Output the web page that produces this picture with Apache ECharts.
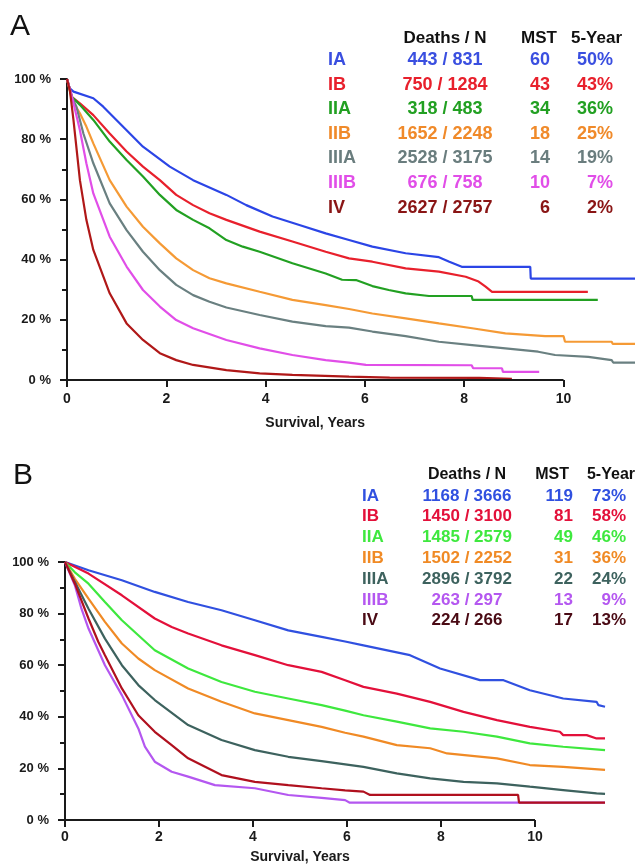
<!DOCTYPE html>
<html>
<head>
<meta charset="utf-8">
<script src="https://cdn.jsdelivr.net/npm/echarts@6/dist/echarts.min.js"></script>
<style>
  html, body { margin: 0; padding: 0; background: #fff; }
  #main { width: 638px; height: 867px; }
</style>
</head>
<body>
<div id="main"></div>
<script>
// stages and table values
const stages = ['IA', 'IB', 'IIA', 'IIB', 'IIIA', 'IIIB', 'IV'];

const deathsA = [443, 750, 318, 1652, 2528, 676, 2627];
const totalA = [831, 1284, 483, 2248, 3175, 758, 2757];
const mstA = [60, 43, 34, 18, 14, 10, 6];
const fiveYearA = [50, 43, 36, 25, 19, 7, 2];

const deathsB = [1168, 1450, 1485, 1502, 2896, 263, 224];
const totalB = [3666, 3100, 2579, 2252, 3792, 297, 266];
const mstB = [119, 81, 49, 31, 22, 13, 17];
const fiveYearB = [73, 58, 46, 36, 24, 9, 13];

const xTicks = [0, 2, 4, 6, 8, 10];
const yTicks = [0, 20, 40, 60, 80, 100];
const xMax = 11.5; // curves run past the last labelled year

// survival curves, panel A  [years, percent]
const survA_IA = [[0,100],[0.05,97],[0.13,95.8],[0.53,93.6],[0.73,90.8],[1.2,83],[1.53,77.5],[2.07,70.9],[2.54,66.4],[3.21,61.5],[3.61,58.1],[4.14,54.3],[4.68,51.5],[5.21,48.7],[5.68,46.5],[6.15,44.3],[6.82,42.1],[7.49,40.8],[7.7,39.3],[7.95,37.6],[9.33,37.6],[9.34,33.7],[11.44,33.7]];
const survA_IB = [[0,100],[0.1,94],[0.26,91.9],[0.53,88],[0.86,81.9],[1.2,75.9],[1.53,70.9],[1.87,66.4],[2.2,61.5],[2.54,58.1],[2.87,55.4],[3.21,53.2],[3.88,49.3],[4.54,46],[5.21,42.6],[5.68,40.4],[6.15,39.3],[6.82,37.1],[7.49,36],[8.03,34.3],[8.29,32.7],[8.43,31],[8.56,29.3],[10.49,29.3]];
const survA_IIA = [[0,100],[0.1,94],[0.26,91.4],[0.53,86.4],[0.86,79.2],[1.2,73.1],[1.53,67.6],[1.87,61.5],[2.2,56.5],[2.54,53.2],[2.87,50.4],[3.21,46.5],[3.54,44.3],[3.88,42.6],[4.54,38.8],[5.21,35.4],[5.54,33.3],[5.82,33.2],[6.15,31.2],[6.48,29.9],[6.82,28.8],[7.29,27.9],[8.15,27.9],[8.17,26.6],[10.69,26.6]];
const survA_IIB = [[0,100],[0.1,93],[0.26,88.6],[0.39,84.2],[0.53,78.6],[0.86,66.4],[1.2,57.6],[1.53,50.9],[1.87,45.4],[2.2,40.4],[2.54,36.5],[2.87,33.8],[3.21,32.1],[3.88,29.3],[4.54,26.6],[5.21,24.9],[5.68,23.6],[6.15,22.1],[6.82,20.5],[7.49,18.8],[8.16,17.2],[8.83,15.5],[9.63,14.6],[10.0,14.6],[10.03,12.7],[10.97,12.7],[10.99,12.0],[11.44,12.0]];
const survA_IIIA = [[0,100],[0.1,94],[0.19,90.8],[0.33,81.9],[0.53,72],[0.86,58.7],[1.2,49.8],[1.53,42.6],[1.87,36.5],[2.2,31.6],[2.54,28.2],[2.87,26],[3.21,24.1],[3.88,21.6],[4.54,19.4],[5.21,17.9],[5.68,17.4],[6.15,16.1],[6.82,14.6],[7.49,12.7],[8.16,11.6],[8.83,10.5],[9.49,9.4],[9.83,8.3],[10.5,7.7],[10.97,6.6],[11.0,5.8],[11.44,5.8]];
const survA_IIIB = [[0,100],[0.07,96],[0.13,92],[0.26,83],[0.39,72],[0.53,62],[0.86,47.6],[1.2,37.7],[1.53,29.9],[1.87,24.4],[2.2,19.9],[2.54,17.2],[3.21,13.3],[3.88,10.5],[4.54,8.3],[5.21,6.6],[5.68,5.8],[6.02,5.0],[8.15,4.9],[8.18,3.9],[8.76,3.9],[8.78,2.7],[9.51,2.7]];
const survA_IV = [[0,100],[0.06,96],[0.13,86.4],[0.26,66.4],[0.39,53.2],[0.53,43.2],[0.86,28.8],[1.2,18.8],[1.53,13.3],[1.87,8.9],[2.2,6.6],[2.54,5],[3.21,3.3],[3.88,2.2],[4.54,1.7],[5.68,1.1],[6.5,0.8],[8.3,0.7],[8.96,0.4]];

// survival curves, panel B
const survB_IA = [[0,100],[0.5,96.8],[1.21,92.9],[1.91,88.4],[2.62,84.5],[3.33,81.3],[4.04,77.4],[4.75,73.5],[5.46,71],[5.96,69.2],[6.35,67.7],[7.34,63.9],[7.98,58.7],[8.83,54.2],[9.33,54.2],[9.89,50.3],[10.6,47.1],[11.31,45.8],[11.35,44.5],[11.49,43.9]];
const survB_IB = [[0,100],[0.5,95.5],[1.21,87.1],[1.91,78.1],[2.27,74.8],[2.62,72.3],[3.33,67.7],[4.04,63.9],[4.75,60],[5.46,57.4],[5.96,54.2],[6.35,51.6],[7.06,49],[7.77,45.8],[8.48,41.9],[9.19,38.7],[9.89,36.1],[10.53,34.2],[10.6,32.9],[11.1,32.9],[11.31,31.6],[11.49,31.6]];
const survB_IIA = [[0,100],[0.21,96],[0.5,91.6],[0.85,84.5],[1.21,77.4],[1.56,71.6],[1.91,65.8],[2.62,58.7],[3.33,53.5],[4.04,49.7],[4.75,47.1],[5.46,44.5],[5.96,42.4],[6.35,40.6],[7.06,38.1],[7.77,35.5],[8.48,34.2],[9.19,32.3],[9.89,29.7],[10.6,28.4],[11.49,27.1]];
const survB_IIB = [[0,100],[0.21,93.5],[0.5,85.8],[0.85,76.8],[1.21,68.4],[1.56,62.6],[1.91,58.1],[2.62,51],[3.33,45.8],[4.04,41.3],[4.75,38.7],[5.46,36.1],[5.96,33.8],[6.35,32.3],[7.06,29],[7.77,27.8],[8.13,25.8],[9.19,23.9],[9.89,21.3],[10.6,20.6],[11.49,19.4]];
const survB_IIIA = [[0,100],[0.21,92.3],[0.5,81.9],[0.85,70.3],[1.21,60],[1.56,52.3],[1.91,46.5],[2.62,36.8],[3.33,31],[4.04,27.1],[4.75,24.5],[5.46,22.8],[6.35,20.6],[7.06,18.1],[7.77,16.1],[8.48,14.8],[9.19,14.2],[9.89,12.9],[10.6,11.6],[11.31,10.3],[11.49,10.1]];
const survB_IIIB = [[0,100],[0.21,91],[0.35,81.9],[0.5,74.2],[0.85,60],[1.21,48.4],[1.56,35.5],[1.7,28.4],[1.91,22.6],[2.27,18.7],[2.62,16.8],[3.19,13.5],[4.04,12.3],[4.75,9.7],[5.46,8.6],[5.96,7.7],[6.06,6.7],[11.49,6.7]];
const survB_IV = [[0,100],[0.21,91.6],[0.5,78.1],[0.71,69],[0.85,63.9],[1.21,51],[1.56,40.6],[1.91,34.2],[2.27,29],[2.62,23.9],[2.98,20.6],[3.33,17.4],[4.04,14.8],[4.75,13.5],[5.46,12.3],[5.96,11.5],[6.35,11],[6.49,9.7],[9.64,9.7],[9.66,6.7],[11.49,6.7]];

const curvesA = [survA_IA, survA_IB, survA_IIA, survA_IIB, survA_IIIA, survA_IIIB, survA_IV];
const curvesB = [survB_IA, survB_IB, survB_IIA, survB_IIB, survB_IIIA, survB_IIIB, survB_IV];

const lineColorsA = ['#2b45e6', '#e8202c', '#22a022', '#f59a35', '#6a8081', '#e14ee8', '#b01818'];
const textColorsA = ['#3a4fe0', '#e8202c', '#22a022', '#f08a2a', '#6a7d7e', '#e14ee8', '#8a1515'];
const lineColorsB = ['#3050e0', '#e3103a', '#3ee83e', '#f08a25', '#3d625e', '#b457f0', '#b0101e'];
const textColorsB = ['#3050e0', '#e3103a', '#3ee83e', '#f08a25', '#3d625e', '#b457f0', '#4a0a14'];

const chart = echarts.init(document.getElementById('main'));

const FONT = '"Liberation Sans", Arial, sans-serif';
const axisColor = '#1a1a1a';

function makeX(gridIndex, nameGap, labelMargin) {
    return {
        type: 'value', gridIndex: gridIndex, min: 0, max: xMax,
        name: 'Survival, Years', nameLocation: 'middle', nameGap: nameGap,
        nameTextStyle: {
            color: '#1a1a1a', fontWeight: 'bold', fontSize: 14, fontFamily: FONT,
            // centre the title under the 0..10 part of the axis
            padding: [0, (xMax - xTicks[xTicks.length - 1]) * 2 * (gridIndex === 0 ? 49.8 : 47) / 2, 0, 0]
        },
        axisLine: { show: false },
        axisTick: { show: true, customValues: xTicks, length: 7, lineStyle: { color: axisColor, width: 2 } },
        axisLabel: { customValues: xTicks, color: '#1a1a1a', fontWeight: 'bold', fontSize: 14, fontFamily: FONT, margin: labelMargin },
        splitLine: { show: false }
    };
}

function makeY(gridIndex) {
    return {
        type: 'value', gridIndex: gridIndex, min: 0, max: 100, interval: 20,
        axisLine: { show: true, lineStyle: { color: axisColor, width: 2 } },
        axisTick: { show: true, length: 7, lineStyle: { color: axisColor, width: 2 } },
        minorTick: { show: true, splitNumber: 2, length: 5, lineStyle: { color: axisColor, width: 2 } },
        axisLabel: { formatter: '{value} %', color: '#1a1a1a', fontWeight: 'bold', fontSize: 13, fontFamily: FONT, margin: 16 },
        splitLine: { show: false },
        minorSplitLine: { show: false }
    };
}

// x axis line only spans the labelled years
function axisBaseLine() {
    return {
        silent: true, symbol: 'none', label: { show: false },
        lineStyle: { color: axisColor, width: 2, type: 'solid' },
        data: [[{ coord: [xTicks[0], yTicks[0]] }, { coord: [xTicks[xTicks.length - 1], yTicks[0]] }]]
    };
}

const series = [];
curvesA.forEach((d, i) => {
    series.push({
        name: 'A ' + stages[i], type: 'line', xAxisIndex: 0, yAxisIndex: 0,
        data: d, showSymbol: false, symbol: 'none', clip: false,
        lineStyle: { color: lineColorsA[i], width: 2.2 },
        markLine: i === 0 ? axisBaseLine() : undefined
    });
});
curvesB.forEach((d, i) => {
    series.push({
        name: 'B ' + stages[i], type: 'line', xAxisIndex: 1, yAxisIndex: 1,
        data: d, showSymbol: false, symbol: 'none', clip: false,
        lineStyle: { color: lineColorsB[i], width: 2.2 },
        markLine: i === 0 ? axisBaseLine() : undefined
    });
});

// tables drawn as text
const graphic = [];
function txt(text, x, y, size, color, align, weight) {
    graphic.push({
        type: 'text', x: x, y: y,
        style: {
            text: text, fill: color, textAlign: align, textVerticalAlign: 'middle',
            font: (weight || 'bold') + ' ' + size + 'px ' + FONT
        }
    });
}

txt('A', 10, 27, 30, '#111', 'left', 'normal');
txt('B', 13, 476, 30, '#111', 'left', 'normal');

// panel A table
txt('Deaths / N', 445, 38, 17, '#111', 'center');
txt('MST', 557, 38, 17, '#111', 'right');
txt('5-Year', 622, 38, 17, '#111', 'right');
stages.forEach((s, i) => {
    const y = 60 + i * 24.6;
    const c = textColorsA[i];
    txt(s, 328, y, 18, c, 'left');
    txt(deathsA[i] + ' / ' + totalA[i], 445, y, 18, c, 'center');
    txt(String(mstA[i]), 550, y, 18, c, 'right');
    txt(fiveYearA[i] + '%', 613, y, 18, c, 'right');
});

// panel B table
txt('Deaths / N', 467, 475, 16, '#111', 'center');
txt('MST', 569, 475, 16, '#111', 'right');
txt('5-Year', 635, 475, 16, '#111', 'right');
stages.forEach((s, i) => {
    const y = 496 + i * 20.8;
    const c = textColorsB[i];
    txt(s, 362, y, 17, c, 'left');
    txt(deathsB[i] + ' / ' + totalB[i], 467, y, 17, c, 'center');
    txt(String(mstB[i]), 573, y, 17, c, 'right');
    txt(fiveYearB[i] + '%', 626, y, 17, c, 'right');
});

chart.setOption({
    animation: false,
    backgroundColor: '#fff',
    grid: [
        // 0..10 years spans 498 px in A and 470 px in B
        { left: 67, top: 79, width: 498 * xMax / 10, height: 301 },
        { left: 65, top: 562, width: 470 * xMax / 10, height: 258 }
    ],
    xAxis: [makeX(0, 36, 12), makeX(1, 30, 10)],
    yAxis: [makeY(0), makeY(1)],
    series: series,
    graphic: graphic
});
</script>
</body>
</html>
